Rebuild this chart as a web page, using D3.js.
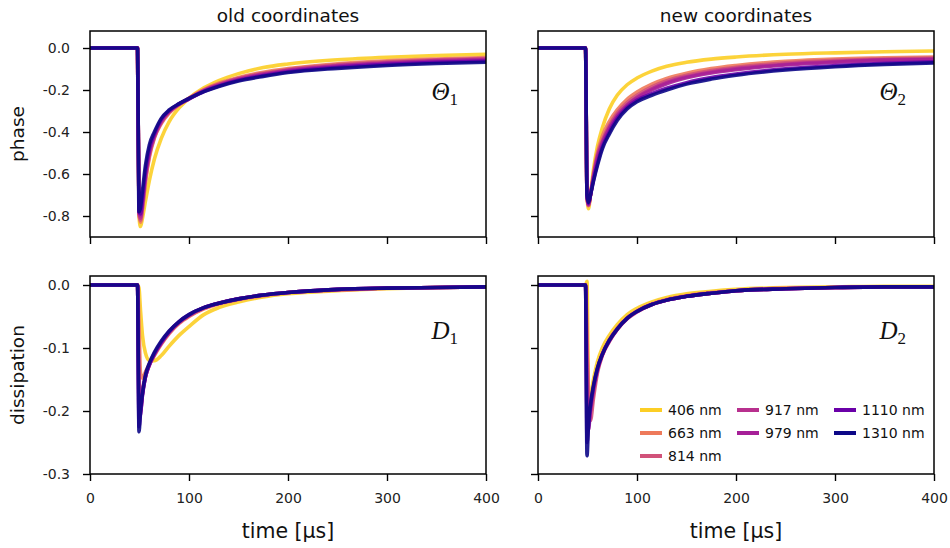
<!DOCTYPE html>
<html lang="en">
<head>
<meta charset="utf-8">
<title>phase and dissipation</title>
<script type="text/javascript" src="https://cdnjs.cloudflare.com/ajax/libs/d3/7.8.5/d3.min.js"></script>
<style>
body { margin: 0; background: #fff; }
</style>
</head>
<body>
<div id="chart"></div>
<script type="text/javascript">

// sample times in microseconds, shared by every curve
var times = [0, 48, 49.5, 51, 53, 56, 60, 65, 72, 80, 90, 100, 115, 130, 150, 175, 200, 250, 300, 350, 400];

var wavelengths = ["406 nm", "663 nm", "814 nm", "917 nm", "979 nm", "1110 nm", "1310 nm"];
var colors = ["#fcce25", "#ee7a5b", "#d1527a", "#b8308e", "#a62098", "#6a00a8", "#0d0887"];

// phase, old coordinates (Theta_1), one row per wavelength
var phaseOld = [
    [0, 0, -0.80, -0.85, -0.81, -0.73, -0.63, -0.53, -0.43, -0.35, -0.285, -0.24, -0.19, -0.155, -0.122, -0.093, -0.076, -0.056, -0.044, -0.036, -0.030],
    [0, 0, -0.79, -0.83, -0.77, -0.64, -0.52, -0.43, -0.36, -0.31, -0.27, -0.238, -0.198, -0.168, -0.140, -0.115, -0.098, -0.075, -0.061, -0.052, -0.045],
    [0, 0, -0.79, -0.82, -0.76, -0.63, -0.51, -0.425, -0.355, -0.305, -0.268, -0.24, -0.20, -0.172, -0.144, -0.12, -0.102, -0.08, -0.066, -0.056, -0.050],
    [0, 0, -0.78, -0.81, -0.74, -0.61, -0.50, -0.42, -0.35, -0.303, -0.268, -0.242, -0.203, -0.175, -0.148, -0.124, -0.106, -0.084, -0.070, -0.060, -0.054],
    [0, 0, -0.78, -0.80, -0.73, -0.60, -0.49, -0.415, -0.345, -0.30, -0.267, -0.242, -0.205, -0.178, -0.151, -0.127, -0.109, -0.087, -0.073, -0.063, -0.057],
    [0, 0, -0.78, -0.79, -0.72, -0.59, -0.48, -0.41, -0.34, -0.298, -0.266, -0.242, -0.207, -0.181, -0.154, -0.131, -0.113, -0.092, -0.078, -0.068, -0.062],
    [0, 0, -0.78, -0.76, -0.68, -0.56, -0.46, -0.40, -0.335, -0.295, -0.265, -0.24, -0.208, -0.183, -0.157, -0.135, -0.117, -0.097, -0.083, -0.074, -0.068]
];

// phase, new coordinates (Theta_2)
var phaseNew = [
    [0, 0, -0.70, -0.765, -0.70, -0.58, -0.47, -0.38, -0.29, -0.225, -0.175, -0.143, -0.11, -0.087, -0.068, -0.053, -0.043, -0.030, -0.023, -0.018, -0.014],
    [0, 0, -0.70, -0.75, -0.70, -0.60, -0.50, -0.42, -0.35, -0.295, -0.245, -0.21, -0.172, -0.145, -0.12, -0.098, -0.083, -0.063, -0.052, -0.047, -0.043],
    [0, 0, -0.70, -0.75, -0.70, -0.61, -0.51, -0.44, -0.37, -0.31, -0.26, -0.225, -0.185, -0.156, -0.13, -0.107, -0.092, -0.071, -0.059, -0.052, -0.048],
    [0, 0, -0.70, -0.745, -0.70, -0.615, -0.52, -0.45, -0.38, -0.32, -0.27, -0.234, -0.194, -0.164, -0.137, -0.114, -0.098, -0.077, -0.064, -0.056, -0.052],
    [0, 0, -0.70, -0.745, -0.70, -0.62, -0.53, -0.455, -0.385, -0.325, -0.275, -0.24, -0.20, -0.17, -0.142, -0.119, -0.103, -0.081, -0.068, -0.059, -0.055],
    [0, 0, -0.70, -0.74, -0.70, -0.63, -0.55, -0.47, -0.40, -0.335, -0.282, -0.248, -0.217, -0.192, -0.165, -0.141, -0.124, -0.099, -0.084, -0.073, -0.066],
    [0, 0, -0.70, -0.735, -0.70, -0.635, -0.56, -0.48, -0.41, -0.345, -0.29, -0.256, -0.225, -0.20, -0.172, -0.148, -0.130, -0.105, -0.089, -0.078, -0.071]
];

// dissipation, old coordinates (D_1)
var dissOld = [
    [0, 0, -0.005, -0.04, -0.08, -0.108, -0.12, -0.12, -0.112, -0.097, -0.08, -0.066, -0.047, -0.036, -0.027, -0.019, -0.014, -0.009, -0.006, -0.004, -0.003],
    [0, 0, -0.06, -0.14, -0.148, -0.138, -0.126, -0.112, -0.094, -0.077, -0.061, -0.05, -0.038, -0.03, -0.023, -0.017, -0.012, -0.008, -0.005, -0.004, -0.003],
    [0, 0, -0.14, -0.18, -0.165, -0.145, -0.127, -0.111, -0.093, -0.076, -0.06, -0.049, -0.037, -0.029, -0.022, -0.016, -0.012, -0.008, -0.005, -0.004, -0.003],
    [0, 0, -0.19, -0.20, -0.172, -0.146, -0.127, -0.11, -0.092, -0.075, -0.059, -0.048, -0.036, -0.029, -0.022, -0.016, -0.012, -0.007, -0.005, -0.004, -0.003],
    [0, 0, -0.21, -0.205, -0.174, -0.146, -0.126, -0.109, -0.091, -0.074, -0.059, -0.048, -0.036, -0.029, -0.022, -0.016, -0.012, -0.007, -0.005, -0.004, -0.003],
    [0, 0, -0.225, -0.205, -0.175, -0.146, -0.126, -0.109, -0.091, -0.074, -0.058, -0.047, -0.036, -0.029, -0.022, -0.016, -0.012, -0.007, -0.005, -0.004, -0.003],
    [0, 0, -0.233, -0.20, -0.172, -0.143, -0.124, -0.107, -0.089, -0.073, -0.058, -0.047, -0.036, -0.029, -0.022, -0.016, -0.012, -0.007, -0.005, -0.004, -0.003]
];

// dissipation, new coordinates (D_2)
var dissNew = [
    [0, 0, 0.006, -0.17, -0.175, -0.15, -0.122, -0.10, -0.08, -0.063, -0.047, -0.037, -0.027, -0.02, -0.014, -0.01, -0.007, -0.004, -0.003, -0.002, -0.002],
    [0, 0, -0.08, -0.17, -0.20, -0.17, -0.135, -0.11, -0.087, -0.069, -0.052, -0.041, -0.03, -0.023, -0.017, -0.012, -0.009, -0.005, -0.004, -0.003, -0.003],
    [0, 0, -0.10, -0.19, -0.215, -0.18, -0.14, -0.112, -0.09, -0.071, -0.054, -0.043, -0.031, -0.024, -0.018, -0.013, -0.009, -0.006, -0.004, -0.003, -0.003],
    [0, 0, -0.16, -0.22, -0.20, -0.168, -0.136, -0.11, -0.089, -0.07, -0.053, -0.042, -0.031, -0.024, -0.018, -0.013, -0.009, -0.006, -0.004, -0.003, -0.003],
    [0, 0, -0.21, -0.23, -0.196, -0.164, -0.134, -0.11, -0.088, -0.07, -0.053, -0.042, -0.031, -0.024, -0.018, -0.013, -0.009, -0.006, -0.004, -0.003, -0.003],
    [0, 0, -0.25, -0.225, -0.193, -0.162, -0.133, -0.11, -0.088, -0.07, -0.053, -0.042, -0.031, -0.024, -0.018, -0.013, -0.009, -0.006, -0.004, -0.003, -0.003],
    [0, 0, -0.271, -0.22, -0.19, -0.16, -0.132, -0.11, -0.088, -0.07, -0.053, -0.042, -0.031, -0.024, -0.018, -0.013, -0.009, -0.006, -0.004, -0.003, -0.003]
];

var xTicks = [0, 100, 200, 300, 400];
var phaseTicks = [0, -0.2, -0.4, -0.6, -0.8];
var phaseTickLabels = ["0.0", "-0.2", "-0.4", "-0.6", "-0.8"];
var dissTicks = [0, -0.1, -0.2, -0.3];
var dissTickLabels = ["0.0", "-0.1", "-0.2", "-0.3"];
var colTitles = ["old coordinates", "new coordinates"];
var rowTitles = ["phase", "dissipation"];

var w = 950, h = 548;
var colX = [90, 538];
var panelW = 396;
var rowY = [31, 276];
var rowH = [206, 198];
var yDomains = [[-0.9, 0.081], [-0.3, 0.0143]];
var yTicks = [phaseTicks, dissTicks];
var yTickLabels = [phaseTickLabels, dissTickLabels];
var sans = "'DejaVu Sans', sans-serif";

var panels = [
    {row: 0, col: 0, data: phaseOld, sym: "\u0398", sub: "1"},
    {row: 0, col: 1, data: phaseNew, sym: "\u0398", sub: "2"},
    {row: 1, col: 0, data: dissOld, sym: "D", sub: "1"},
    {row: 1, col: 1, data: dissNew, sym: "D", sub: "2"}
];

var svg = d3.select("#chart")
    .append("svg")
    .attr("width", w)
    .attr("height", h);

var xScale = d3.scaleLinear().domain([0, 400]).range([0, panelW]);

panels.forEach(function(p, k) {
    var ph = rowH[p.row];
    var yScale = d3.scaleLinear().domain(yDomains[p.row]).range([ph, 0]);

    var g = svg.append("g")
        .attr("transform", "translate(" + colX[p.col] + "," + rowY[p.row] + ")");

    g.append("clipPath").attr("id", "clip" + k)
        .append("rect").attr("width", panelW).attr("height", ph);

    var line = d3.line()
        .x(function(d) { return xScale(d[0]); })
        .y(function(d) { return yScale(d[1]); })
        .curve(d3.curveMonotoneX);

    var lines = g.append("g").attr("clip-path", "url(#clip" + k + ")");
    p.data.forEach(function(vals, i) {
        lines.append("path")
            .datum(times.map(function(t, j) { return [t, vals[j]]; }))
            .attr("fill", "none")
            .attr("stroke", colors[i])
            .attr("stroke-opacity", 0.9)
            .attr("stroke-width", 3.6)
            .attr("stroke-linejoin", "round")
            .attr("d", line);
    });

    // axes
    var xAxis = d3.axisBottom(xScale)
        .tickValues(xTicks)
        .tickSize(7)
        .tickPadding(12)
        .tickFormat(function(d) { return p.row === 1 ? d : ""; });
    var yAxis = d3.axisLeft(yScale)
        .tickValues(yTicks[p.row])
        .tickSize(7)
        .tickPadding(13)
        .tickFormat(function(d, i) { return p.col === 0 ? yTickLabels[p.row][i] : ""; });

    var gx = g.append("g").attr("transform", "translate(0," + ph + ")").call(xAxis);
    var gy = g.append("g").call(yAxis);
    [gx, gy].forEach(function(a) {
        a.attr("font-size", null).attr("font-family", null);
        a.select(".domain").remove();
        a.selectAll(".tick line").attr("stroke", "#000").attr("stroke-width", 1.4);
        a.selectAll("text")
            .attr("font-family", sans)
            .attr("font-size", 14)
            .attr("fill", "#222");
    });

    g.append("rect")
        .attr("width", panelW)
        .attr("height", ph)
        .attr("fill", "none")
        .attr("stroke", "#000")
        .attr("stroke-width", 1.5);

    // panel symbol
    var lab = g.append("text")
        .attr("x", panelW - 28)
        .attr("y", p.row === 0 ? 69 : 63)
        .attr("text-anchor", "end")
        .style("font-family", "'Liberation Serif', 'DejaVu Serif', serif")
        .style("font-size", "25px")
        .attr("fill", "#111");
    lab.append("tspan").style("font-style", "italic").text(p.sym);
    lab.append("tspan").attr("dy", 5).style("font-size", "17px").text(p.sub);

    if (p.row === 0) {
        svg.append("text")
            .attr("x", colX[p.col] + panelW / 2)
            .attr("y", 22)
            .attr("text-anchor", "middle")
            .style("font-family", sans)
            .style("font-size", "18.5px")
            .attr("fill", "#111")
            .text(colTitles[p.col]);
    } else {
        svg.append("text")
            .attr("x", colX[p.col] + panelW / 2)
            .attr("y", 538)
            .attr("text-anchor", "middle")
            .style("font-family", sans)
            .style("font-size", "20.5px")
            .attr("fill", "#111")
            .text("time [\u03bcs]");
    }
    if (p.col === 0) {
        svg.append("text")
            .attr("transform", "translate(24," + (rowY[p.row] + ph / 2) + ") rotate(-90)")
            .attr("text-anchor", "middle")
            .style("font-family", sans)
            .style("font-size", "18.5px")
            .attr("fill", "#111")
            .text(rowTitles[p.row]);
    }

    // legend in the last panel, filled column by column
    if (k === 3) {
        var perCol = [3, 2, 2];
        var legX = [102, 199, 296];
        var legY = [134, 157, 180];
        var idx = 0;
        perCol.forEach(function(n, c) {
            for (var r = 0; r < n; r++) {
                var item = g.append("g")
                    .attr("transform", "translate(" + legX[c] + "," + legY[r] + ")");
                item.append("line")
                    .attr("x1", 0).attr("x2", 22)
                    .attr("stroke", colors[idx])
                    .attr("stroke-width", 4);
                item.append("text")
                    .attr("x", 28)
                    .attr("y", 5)
                    .style("font-family", sans)
                    .style("font-size", "14px")
                    .attr("fill", "#111")
                    .text(wavelengths[idx]);
                idx++;
            }
        });
    }
});

</script>
</body>
</html>
